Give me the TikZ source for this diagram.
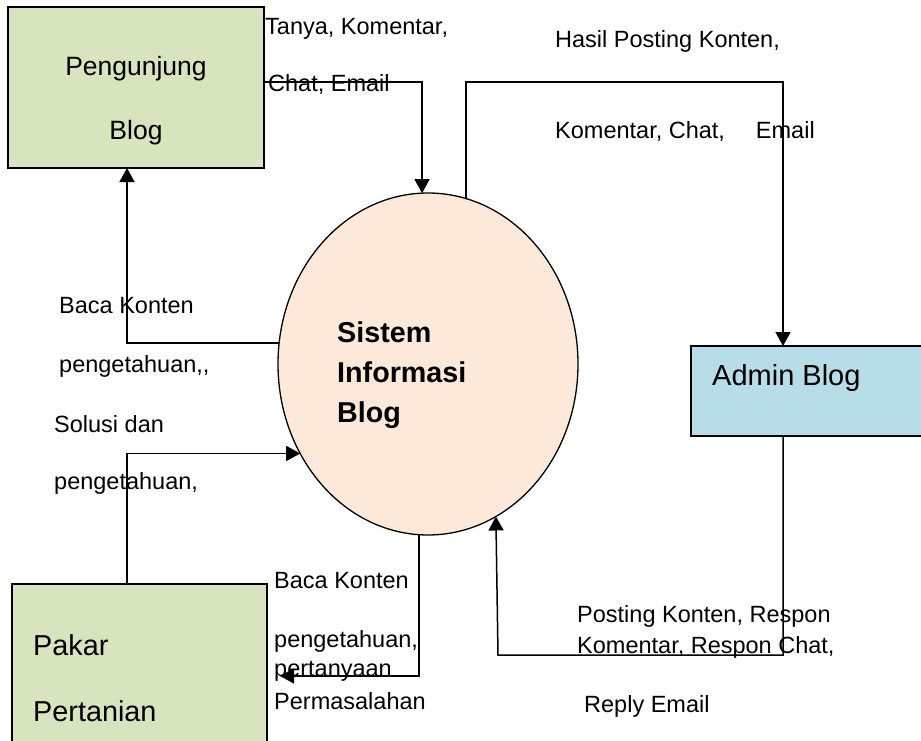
\documentclass[tikz,border=0pt]{standalone}
\usepackage{fontspec}
\setmainfont{Liberation Sans}
\usetikzlibrary{arrows.meta,shapes.geometric}
\definecolor{entgreen}{HTML}{D7E4BD}
\definecolor{entblue}{HTML}{B7DDE8}
\definecolor{procpeach}{HTML}{FDE9D9}
\begin{document}
\begin{tikzpicture}[x=1pt,y=-1pt,
  entity/.style={draw=black,line width=1.5pt,inner sep=0pt,outer sep=0pt,
    rectangle,anchor=center},
  process/.style={draw=black,line width=1.3pt,fill=procpeach,ellipse,
    inner sep=0pt,outer sep=0pt,minimum width=300pt,minimum height=342pt},
  flow/.style={draw=black,line width=1.5pt,
    -{Triangle[length=14pt,width=15pt]}},
  lbl/.style={anchor=base west,inner sep=0pt,
    font=\fontsize{23.5}{28}\selectfont},
  boxlbl/.style={anchor=base,inner sep=0pt,
    font=\fontsize{26.5}{32}\selectfont},
  boxlbll/.style={anchor=base west,inner sep=0pt,
    font=\fontsize{28.8}{34}\selectfont},
  proclbl/.style={anchor=base west,inner sep=0pt,
    font=\fontsize{28.7}{34}\selectfont\bfseries}]
\useasboundingbox (0,0) rectangle (921,741);
\clip (0,0) rectangle (921,741);

% external entities and the process
\node[entity,fill=entgreen,minimum width=256pt,minimum height=161pt]
  (peng) at (136,87.5) {};
\node[entity,fill=entblue,minimum width=234pt,minimum height=90pt]
  (admin) at (808,391) {};
\node[entity,fill=entgreen,minimum width=255pt,minimum height=176pt]
  (pakar) at (139.5,672) {};
\node[process] (ell) at (428,364) {};

% entity and process names
\node[boxlbl] (pengA) at (136,76) {Pengunjung};
\node[boxlbl] (pengB) at (136,140) {Blog};
\node[boxlbll,font=\fontsize{29}{34}\selectfont] (adminT) at (712,385) {Admin Blog};
\node[boxlbll] (pakarA) at (33,655) {Pakar};
\node[boxlbll] (pakarB) at (33,721) {Pertanian};
\node[proclbl] (sisA) at (337,342) {Sistem};
\node[proclbl] (sisB) at (337,382) {Informasi};
\node[proclbl] (sisC) at (337,422) {Blog};

% bend points of the data flows
\coordinate (hpBend) at (783,82);
\coordinate (pkBend) at (498,655);
\coordinate (pqEnd) at (280,676);

% data flows
\draw[flow] ([yshift=5.5pt]peng.east) -| (ell.92.3);
\draw[flow] (ell.172.7) -| ([xshift=-9pt]peng.south);
\draw[flow] ([xshift=-12.5pt]pakar.north) |- (ell.215.6);
\draw[flow] (ell.267.3) |- (pqEnd);
\draw[flow] (ell.77.06) |- (hpBend) -- ([xshift=-25pt]admin.north);
\draw[flow] ([xshift=-25pt]admin.south) |- (pkBend) -- (ell.294.84);

% flow labels
\node[lbl] (l1a) at (265,35) {Tanya, Komentar,};
\node[lbl] (l1b) at (268,92) {Chat, Email};
\node[lbl] (l2a) at (555,48) {Hasil Posting Konten,};
\node[lbl] (l2b) at (555,139) {Komentar, Chat,\hspace*{31pt}Email};
\node[lbl] (l3a) at (59,313) {Baca Konten};
\node[lbl] (l3b) at (59,372) {pengetahuan,{},};
\node[lbl] (l4a) at (54,432) {Solusi dan};
\node[lbl] (l4b) at (54,489) {pengetahuan,};
\node[lbl] (l5a) at (274,588) {Baca Konten};
\node[lbl] (l5b) at (274,647) {pengetahuan,};
\node[lbl] (l5c) at (274,676) {pertanyaan};
\node[lbl] (l5d) at (274,709) {Permasalahan};
\node[lbl] (l6a) at (577,622) {Posting Konten, Respon};
\node[lbl] (l6b) at (577,653) {Komentar, Respon Chat,};
\node[lbl] (l6c) at (584,712) {Reply Email};
\end{tikzpicture}
\end{document}
